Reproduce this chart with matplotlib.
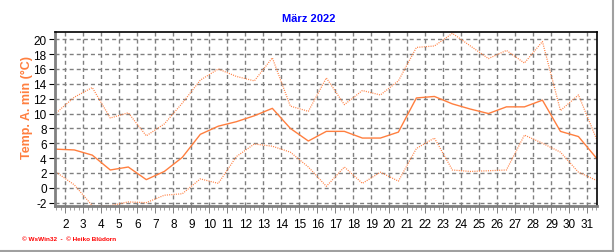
import matplotlib
matplotlib.use("Agg")
import matplotlib.pyplot as plt
from matplotlib.ticker import MultipleLocator, FixedLocator
from matplotlib.lines import Line2D

plt.rcParams['font.family'] = ['Liberation Sans', 'DejaVu Sans']
plt.rcParams['lines.scale_dashes'] = False

days = list(range(1, 32))
t_max = [10.1, 12.2, 13.5, 9.4, 10.1, 7.0, 8.6, 11.4, 14.5, 16.0, 15.0, 14.4, 17.5,
         11.0, 10.3, 14.8, 11.2, 13.1, 12.5, 14.4, 18.9, 19.1, 20.8, 19.1, 17.4,
         18.5, 16.8, 19.7, 10.4, 12.5, 6.6]
t_mean = [5.2, 5.1, 4.4, 2.4, 2.8, 1.1, 2.2, 4.1, 7.2, 8.3, 8.9, 9.7, 10.7,
          8.0, 6.3, 7.6, 7.6, 6.7, 6.7, 7.5, 12.1, 12.3, 11.3, 10.6, 10.0,
          10.9, 10.9, 11.8, 7.6, 6.9, 4.0]
t_min = [2.1, 0.4, -2.4, -2.4, -1.9, -2.0, -1.0, -0.8, 1.2, 0.6, 4.2, 5.9, 5.6,
         4.8, 2.8, 0.2, 2.8, 0.6, 2.1, 0.9, 5.3, 6.7, 2.4, 2.2, 2.3,
         2.4, 7.1, 6.0, 4.8, 2.1, 1.0]
x_ticks = list(range(2, 32))
y_ticks = list(range(-2, 21, 2))

title = "März 2022"
ylabel = "Temp. A. min (°C)"
footer = "© WsWin32  -  © Heiko Blüdorn"

orange = '#FF7F3F'
xpos = [d + 0.5 for d in days]

fig = plt.figure(figsize=(6.16, 2.53), dpi=100)
ax = fig.add_axes([55/616, 1 - 207/253, (597-55)/616, (207-33.3)/253])

ax.plot(xpos, t_max, color=orange, lw=0.9, dashes=(0.72, 0.9))
ax.plot(xpos, t_mean, color=orange, lw=1.0)
ax.plot(xpos, t_min, color=orange, lw=0.9, dashes=(0.72, 0.9))

ax.set_xlim(1.43, 31.53)
ax.set_ylim(-2.45, 20.94)
ax.xaxis.set_major_locator(FixedLocator(x_ticks))
ax.xaxis.set_minor_locator(MultipleLocator(0.25))
ax.yaxis.set_major_locator(FixedLocator(y_ticks))
ax.set_xticklabels([str(v) for v in x_ticks])
ax.set_yticklabels([str(v) for v in y_ticks])

ax.grid(True, which='major', color='#808080', lw=1.0, dashes=(2.9, 2.2))
ax.set_axisbelow(True)

ax.tick_params(axis='both', which='major', labelsize=8.5, colors='#000000',
               direction='out')
ax.tick_params(axis='x', which='major', length=5, width=0.7, color='#808080', pad=4)
ax.tick_params(axis='x', which='minor', length=3, width=0.6, color='#909090')
ax.tick_params(axis='y', which='major', length=4, width=0.8, color='#000000', pad=2)

for s in ['left', 'bottom']:
    ax.spines[s].set_color('#808080')
    ax.spines[s].set_linewidth(2.0)
for s in ['top', 'right']:
    ax.spines[s].set_color('#000000')
    ax.spines[s].set_linewidth(1.2)

fig.text(309/616, 1 - 19/253, title, color='#0000FF', fontsize=8, fontweight='bold',
         ha='center', va='center')
fig.text(27/616, 1 - 108/253, ylabel, color=orange, fontsize=9, fontweight='bold',
         rotation=90, ha='center', va='center')
fig.text(22/616, 1 - 240/253, footer, color='#FF0000', fontsize=4.6, fontweight='bold',
         ha='left', va='center')

fig.add_artist(Line2D([613/616, 613/616], [1 - 252/253, 1.0], color='#A0A0A0', lw=1.5,
                      transform=fig.transFigure))
fig.add_artist(Line2D([0, 613/616], [1 - 251.5/253, 1 - 251.5/253], color='#A0A0A0', lw=1.5,
                      transform=fig.transFigure))

fig.savefig('out.png', dpi=100, facecolor='white')
